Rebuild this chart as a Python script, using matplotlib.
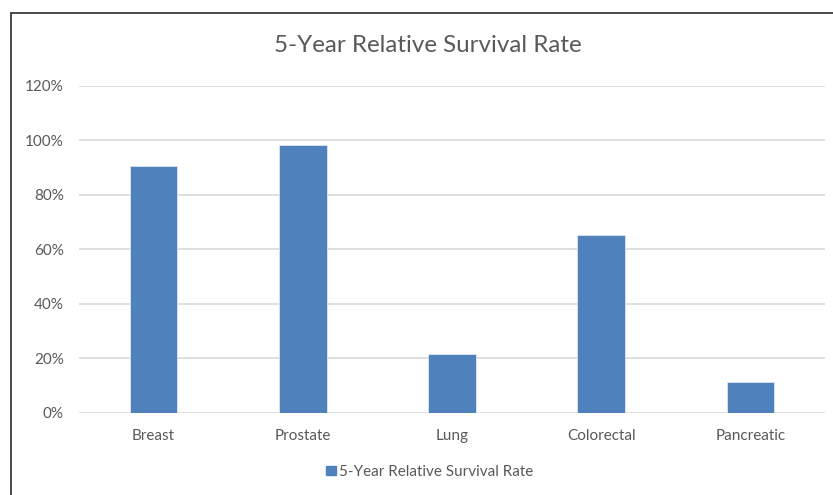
#!/usr/bin/env python3
"""
5-year relative survival rate by cancer type, drawn as an Excel-style column chart.
"""

import matplotlib
matplotlib.use('Agg')
import matplotlib.pyplot as plt
from matplotlib.patches import Rectangle
from matplotlib.ticker import PercentFormatter
import numpy as np

# Survival data (fraction of patients alive 5 years after diagnosis)
cancer_types = ['Breast', 'Prostate', 'Lung', 'Colorectal', 'Pancreatic']
survival_rate = [0.905, 0.982, 0.214, 0.654, 0.112]
y_ticks = [0.0, 0.2, 0.4, 0.6, 0.8, 1.0, 1.2]
series_name = '5-Year Relative Survival Rate'
chart_title = '5-Year Relative Survival Rate'

bar_color = '#4F81BD'
text_color = '#595959'
grid_color = '#D9D9D9'

plt.rcParams['font.family'] = ['Lato', 'DejaVu Sans']

fig = plt.figure(figsize=(8.33, 4.95), dpi=100)
W, H = 833, 495

# Chart area border (runs off the right and bottom edges)
fig.patches.append(Rectangle((10.5 / W, -0.1), 1.2, 1.1 - 12.5 / H,
                             transform=fig.transFigure, fill=False,
                             edgecolor='#3a3a3a', linewidth=1.3))

ax = fig.add_axes([79 / W, 1 - 412.7 / H, (825 - 79) / W, (412.7 - 85.8) / H])

x = np.arange(len(cancer_types))
ax.bar(x, survival_rate, width=0.32, color=bar_color,
       edgecolor='#dce6f2', linewidth=0.6, zorder=3)

ax.set_xlim(-0.5, len(cancer_types) - 0.5)
ax.set_ylim(0, 1.2)
ax.set_yticks(y_ticks)
ax.yaxis.set_major_formatter(PercentFormatter(1.0, decimals=0))
ax.set_xticks(x)
ax.set_xticklabels(cancer_types)

ax.grid(axis='y', color=grid_color, linewidth=1.2, zorder=0)
for spine in ax.spines.values():
    spine.set_visible(False)
ax.tick_params(axis='both', length=0, labelsize=11, labelcolor=text_color)
ax.tick_params(axis='y', pad=11)
ax.tick_params(axis='x', pad=12)

fig.text(428 / W, 1 - 46 / H, chart_title, ha='center', va='center',
         fontsize=17.4, color=text_color)

handle = Rectangle((0, 0), 1, 1, color=bar_color)
fig.legend([handle], [series_name], loc='center',
           bbox_to_anchor=(430 / W, 1 - 472 / H), frameon=False,
           fontsize=11, labelcolor=text_color, handlelength=0.6,
           handleheight=0.6, handletextpad=0.25, borderaxespad=0)

fig.savefig('out.png', dpi=100, facecolor='white')
